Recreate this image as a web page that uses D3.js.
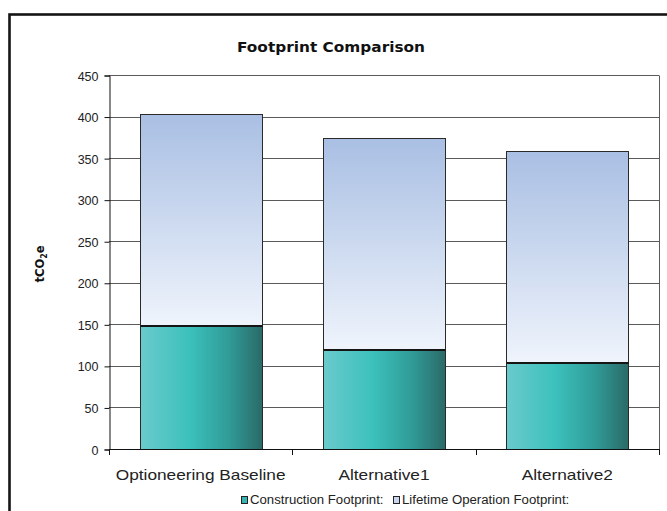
<!DOCTYPE html>
<html>
<head>
<meta charset="utf-8">
<script src="https://cdn.jsdelivr.net/npm/d3@7"></script>
<style>
  html, body { margin: 0; padding: 0; background: #fff; }
  svg { display: block; }
</style>
</head>
<body>
<script>
// ---- data ----
const categories = ["Optioneering Baseline", "Alternative1", "Alternative2"];
const construction = [149, 120, 105];
const lifetimeOperation = [254, 254, 254];
const seriesNames = ["Construction Footprint:", "Lifetime Operation Footprint:"];
const yTicks = [0, 50, 100, 150, 200, 250, 300, 350, 400, 450];
const title = "Footprint Comparison";

// ---- layout ----
const W = 667, H = 511;
const plot = { left: 109, right: 659, top: 75, bottom: 449 };

const svg = d3.select("body").append("svg").attr("width", W).attr("height", H);
const defs = svg.append("defs");

const gTeal = defs.append("linearGradient").attr("id", "gTeal")
  .attr("x1", 0).attr("y1", 0).attr("x2", 1).attr("y2", 0);
[[0, "#6acacc"], [0.4, "#3cc1bc"], [0.72, "#309c98"], [1, "#2a6a68"]]
  .forEach(([o, c]) => gTeal.append("stop").attr("offset", o).attr("stop-color", c));

const gBlue = defs.append("linearGradient").attr("id", "gBlue")
  .attr("x1", 0).attr("y1", 0).attr("x2", 0).attr("y2", 1);
[[0, "#a9bfe3"], [1, "#eff4fc"]]
  .forEach(([o, c]) => gBlue.append("stop").attr("offset", o).attr("stop-color", c));

// outer frame
svg.append("rect").attr("x", 9.5).attr("y", 14.5).attr("width", 720).attr("height", 600)
  .attr("fill", "none").attr("stroke", "#151515").attr("stroke-width", 2.6);

// scales
const x = d3.scaleBand().domain(categories).range([plot.left, plot.right])
  .paddingInner(1/3).paddingOuter(1/6);
const y = d3.scaleLinear().domain([0, 450]).range([plot.bottom, plot.top]);

// gridlines
svg.append("g").selectAll("line").data(yTicks.filter(d => d > 0)).join("line")
  .attr("x1", plot.left).attr("x2", plot.right)
  .attr("y1", d => Math.round(y(d)) + 0.5).attr("y2", d => Math.round(y(d)) + 0.5)
  .attr("stroke", "#5a5a5a").attr("stroke-width", 1);
// right plot border
svg.append("line").attr("x1", plot.right + 0.5).attr("x2", plot.right + 0.5)
  .attr("y1", Math.round(y(450)) + 0.5).attr("y2", plot.bottom + 5)
  .attr("stroke", "#5a5a5a").attr("stroke-width", 1);

// bars
const data = categories.map((c, i) => ({ c, a: construction[i], b: lifetimeOperation[i] }));
const bars = svg.append("g");
bars.selectAll("rect.op").data(data).join("rect").attr("class", "op")
  .attr("x", d => Math.round(x(d.c)) + 0.5)
  .attr("width", Math.round(x.bandwidth()))
  .attr("y", d => Math.round(y(d.a + d.b)) + 0.5)
  .attr("height", d => Math.round(y(d.a)) - Math.round(y(d.a + d.b)))
  .attr("fill", "url(#gBlue)").attr("stroke", "#2a2a2a").attr("stroke-width", 1);
bars.selectAll("rect.con").data(data).join("rect").attr("class", "con")
  .attr("x", d => Math.round(x(d.c)) + 0.5)
  .attr("width", Math.round(x.bandwidth()))
  .attr("y", d => Math.round(y(d.a)) + 0.5)
  .attr("height", d => Math.round(y(0)) - Math.round(y(d.a)))
  .attr("fill", "url(#gTeal)").attr("stroke", "#2a2a2a").attr("stroke-width", 1);
bars.selectAll("line.sep").data(data).join("line").attr("class", "sep")
  .attr("x1", d => Math.round(x(d.c)) + 0.5)
  .attr("x2", d => Math.round(x(d.c)) + Math.round(x.bandwidth()) + 0.5)
  .attr("y1", d => Math.round(y(d.a)) + 1).attr("y2", d => Math.round(y(d.a)) + 1)
  .attr("stroke", "#151515").attr("stroke-width", 2);

// y axis
const yAxis = d3.axisLeft(y).tickValues(yTicks).tickSize(5).tickPadding(6);
const ya = svg.append("g").attr("transform", `translate(${plot.left + 0.5},0.5)`).call(yAxis);
ya.select(".domain").attr("stroke", "#111");
ya.selectAll(".tick line").attr("stroke", "#111");
ya.selectAll("text").attr("font-family", "'Liberation Sans', Arial, sans-serif")
  .attr("font-size", 12.5).attr("fill", "#222").attr("dy", "0.36em");

// x axis
svg.append("line").attr("x1", plot.left).attr("x2", plot.right + 1)
  .attr("y1", plot.bottom + 0.5).attr("y2", plot.bottom + 0.5).attr("stroke", "#111");
const step = x.step();
const bounds = categories.map(c => x(c) - step * x.paddingInner() / 2).concat([plot.right]);
bounds[0] = plot.left;
svg.append("g").selectAll("line").data(bounds).join("line")
  .attr("x1", d => Math.round(d) + 0.5).attr("x2", d => Math.round(d) + 0.5)
  .attr("y1", plot.bottom).attr("y2", plot.bottom + 6).attr("stroke", "#111");

function stretch(sel, f) {
  sel.each(function() {
    const w = this.getComputedTextLength();
    d3.select(this).attr("textLength", w * f).attr("lengthAdjust", "spacingAndGlyphs");
  });
}

svg.append("g").selectAll("text").data(categories).join("text")
  .attr("x", d => x(d) + x.bandwidth() / 2).attr("y", 480)
  .attr("text-anchor", "middle")
  .attr("font-family", "'Liberation Sans', Arial, sans-serif")
  .attr("font-size", 15).attr("fill", "#222")
  .text(d => d)
  .call(stretch, 1.15);

// title
svg.append("text").attr("x", 331).attr("y", 52).attr("text-anchor", "middle")
  .attr("font-family", "'DejaVu Sans', Verdana, sans-serif").attr("font-weight", "bold")
  .attr("font-size", 14.5).attr("fill", "#111").text(title)
  .attr("textLength", 188).attr("lengthAdjust", "spacingAndGlyphs");

// y label
const yl = svg.append("text").attr("transform", "translate(44,264) rotate(-90)")
  .attr("text-anchor", "middle")
  .attr("font-family", "'DejaVu Sans', Verdana, sans-serif").attr("font-weight", "bold")
  .attr("font-size", 11.5).attr("fill", "#111");
yl.append("tspan").text("tCO");
yl.append("tspan").attr("font-size", 8).attr("dy", 3).text("2");
yl.append("tspan").attr("dy", -3).text("e");

// legend
const legend = svg.append("g");
const legendItems = [
  { name: seriesNames[0], fill: "#39b5b1", x: 241 },
  { name: seriesNames[1], fill: "#c9d6ee", x: 393 }
];
legendItems.forEach(it => {
  legend.append("rect").attr("x", it.x + 0.5).attr("y", 496.5).attr("width", 6).attr("height", 7)
    .attr("fill", it.fill).attr("stroke", "#222").attr("stroke-width", 1);
  legend.append("text").attr("x", it.x + 9).attr("y", 504)
    .attr("font-family", "'Liberation Sans', Arial, sans-serif")
    .attr("font-size", 12).attr("fill", "#222").text(it.name)
    .call(stretch, 1.1);
});
</script>
</body>
</html>
